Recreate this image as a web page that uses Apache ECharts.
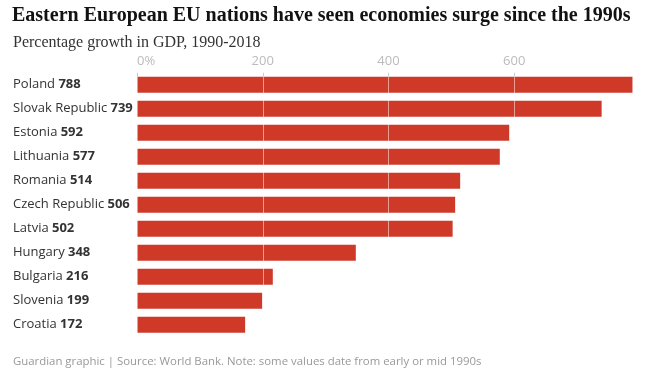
<!DOCTYPE html>
<html>
<head>
<meta charset="utf-8">
<script src="https://cdn.jsdelivr.net/npm/echarts@6/dist/echarts.min.js"></script>
<style>
html,body{margin:0;padding:0;background:#fff;}
#c{width:652px;height:370px;}
</style>
</head>
<body>
<div id="c"></div>
<script>
const countries = ["Poland","Slovak Republic","Estonia","Lithuania","Romania","Czech Republic","Latvia","Hungary","Bulgaria","Slovenia","Croatia"];
const growth = [788,739,592,577,514,506,502,348,216,199,172];
const tickValues = [0,200,400,600];
const tickLabels = ["0%","200","400","600"];

const chart = echarts.init(document.getElementById('c'), null, {renderer:'canvas'});
const sans = "'Open Sans', 'Noto Sans', sans-serif";
chart.setOption({
  animation:false,
  backgroundColor:'#fff',
  title:[
    {text:'Eastern European EU nations have seen economies surge since the 1990s', left:12, top:6, padding:0,
     textStyle:{fontFamily:"'Liberation Serif', serif", fontWeight:'bold', fontSize:20, color:'#121212'}},
    {text:'Percentage growth in GDP, 1990-2018', left:13, top:35, padding:0,
     textStyle:{fontFamily:"'Liberation Serif', serif", fontWeight:'normal', fontSize:16, color:'#333'}},
    {text:'Guardian graphic | Source: World Bank. Note: some values date from early or mid 1990s', left:13, top:356, padding:0,
     textStyle:{fontFamily:sans, fontWeight:'normal', fontSize:11.4, color:'#999'}}
  ],
  grid:{left:137, right:12, top:72.7, bottom:33.3},
  xAxis:{
    type:'value', position:'top', min:0, max:800, interval:200, z:5,
    axisLine:{show:false},
    axisTick:{show:true, inside:true, length:4, lineStyle:{color:'#ccc'}, customValues:tickValues},
    axisLabel:{customValues:tickValues, margin:5, color:'#bbb', fontSize:13, fontFamily:sans,
      formatter:function(v){return tickLabels[tickValues.indexOf(v)];},
      alignMinLabel:'left'},
    splitLine:{show:true, lineStyle:{color:'rgba(255,255,255,0.5)', width:1}}
  },
  yAxis:{
    type:'category', inverse:true, data:countries,
    axisLine:{show:false}, axisTick:{show:false},
    axisLabel:{
      align:'left', margin:124,
      formatter:function(name, i){return '{n|'+name+'} {v|'+growth[i]+'}';},
      rich:{
        n:{fontFamily:sans, fontSize:13, color:'#333'},
        v:{fontFamily:sans, fontSize:13, fontWeight:'bold', color:'#333'}
      }
    }
  },
  series:[{
    type:'bar', data:growth, barCategoryGap:'33.3%', itemStyle:{color:'#cf3a28'}, z:2
  }]
});
</script>
</body>
</html>
